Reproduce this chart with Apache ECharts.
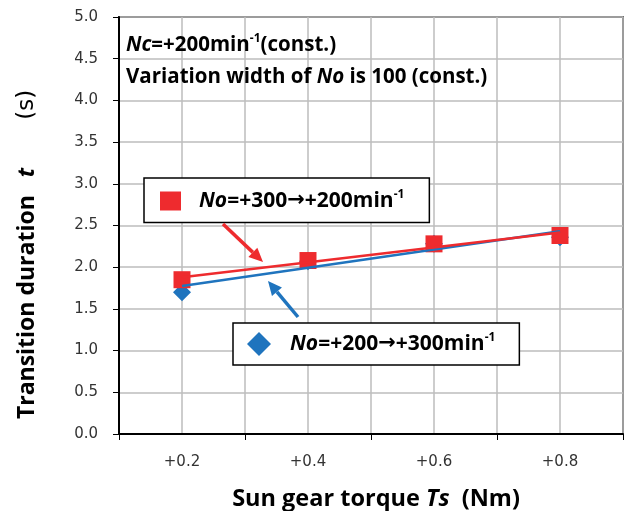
<!DOCTYPE html>
<html><head><meta charset="utf-8">
<script src="https://cdn.jsdelivr.net/npm/echarts@6/dist/echarts.min.js"></script>
<style>html,body{margin:0;padding:0;background:#fff}#c{width:625px;height:511px}</style>
</head><body><div id="c"></div>
<script>
// ---- data ----
const torque = [0.2, 0.4, 0.6, 0.8];
const durDown = [1.85, 2.08, 2.28, 2.38];   // No=+300 -> +200 (red squares)
const durUp   = [1.70, 2.07, 2.28, 2.36];   // No=+200 -> +300 (blue diamonds)
const yTicks = [0, 0.5, 1, 1.5, 2, 2.5, 3, 3.5, 4, 4.5, 5];
const xLabelVals = [0.2, 0.4, 0.6, 0.8];
const nameDown = 'No=+300→+200min-1';
const nameUp = 'No=+200→+300min-1';

function fit(xs, ys) {
  const n = xs.length, mx = xs.reduce((a,b)=>a+b)/n, my = ys.reduce((a,b)=>a+b)/n;
  let sxy = 0, sxx = 0;
  for (let i=0;i<n;i++){ sxy += (xs[i]-mx)*(ys[i]-my); sxx += (xs[i]-mx)**2; }
  const b = sxy/sxx, a = my - b*mx;
  return [[xs[0], a+b*xs[0]], [xs[n-1], a+b*xs[n-1]]];
}
const RED = '#EE2B2E', BLUE = '#1F74BE';
const FONT = 'Open Sans';
const TFONT = 'DejaVu Sans';

const richLeg = {
  i: {fontFamily: FONT, fontSize: 21, fontWeight: 'bold', fontStyle: 'italic', color: '#000'},
  b: {fontFamily: FONT, fontSize: 21, fontWeight: 'bold', color: '#000'},
  a: {fontFamily: TFONT, fontSize: 21, fontWeight: 'bold', color: '#000'},
  s: {fontFamily: FONT, fontSize: 12, fontWeight: 'bold', color: '#000', padding: [0,0,12,0]}
};
function legFmt(name) {
  const body = name.slice(2, name.length - 2).split('→');
  return '{i|No}{b|' + body[0] + '}{a|→}{b|' + body[1] + '}{s|-1}';
}

function arrow(x1, y1, x2, y2, color) {
  const ang = Math.atan2(y2-y1, x2-x1), L = 14, W = 6.5;
  const bx = x2 - L*Math.cos(ang), by = y2 - L*Math.sin(ang);
  const px = -Math.sin(ang), py = Math.cos(ang);
  return [
    {type:'line', shape:{x1, y1, x2: bx, y2: by}, style:{stroke: color, lineWidth: 3.5}, z: 50},
    {type:'polygon', shape:{points:[[x2,y2],[bx+px*W, by+py*W],[bx-px*W, by-py*W]]}, style:{fill: color}, z: 50}
  ];
}

const chart = echarts.init(document.getElementById('c'), null, {renderer:'canvas'});
chart.setOption({
  animation: false,
  backgroundColor: '#fff',
  grid: {left: 119, right: 2, top: 17, bottom: 77, show: true, borderColor: '#000', borderWidth: 1.5,
         containLabel: false, outerBoundsMode: 'none'},
  xAxis: [{
    type: 'value', min: 0.1, max: 0.9, interval: 0.1,
    axisLine: {show: true, onZero: false, lineStyle: {color: '#000', width: 2}},
    axisTick: {show: false},
    splitLine: {show: true, lineStyle: {color: '#BDBDBD', width: 1.5}},
    axisLabel: {
      margin: 21, color: '#333', fontFamily: TFONT, fontSize: 15,
      formatter: v => { const r = Math.round(v*10); return xLabelVals.some(t => Math.round(t*10) === r) ? '+' + (r/10).toFixed(1) : ''; }
    },
    name: '{b|Sun gear torque }{bi|Ts}{b|  (Nm)}',
    nameLocation: 'middle', nameGap: 53,
    nameTextStyle: {padding: [0, 0, 0, 10], rich: {
      b: {fontFamily: FONT, fontSize: 23.5, fontWeight: 'bold', color: '#000'},
      bi: {fontFamily: FONT, fontSize: 23.5, fontWeight: 'bold', fontStyle: 'italic', color: '#000'}
    }}
  }, {
    type: 'category', data: ['a','b','c','d'], position: 'bottom', boundaryGap: true,
    axisLine: {show: false}, axisLabel: {show: false}, splitLine: {show: false},
    axisTick: {show: true, length: 6, lineStyle: {color: '#000', width: 1}}
  }],
  yAxis: {
    type: 'value', min: 0, max: 5, interval: 0.5,
    axisLine: {show: true, lineStyle: {color: '#000', width: 2}},
    axisTick: {show: true, length: 6, lineStyle: {color: '#000'}},
    splitLine: {show: true, lineStyle: {color: '#BDBDBD', width: 1.5}},
    axisLabel: {margin: 21, color: '#333', fontFamily: TFONT, fontSize: 15, formatter: v => v.toFixed(1)},
    name: '{b|Transition duration   }{bi|t}{n|(s)}',
    nameLocation: 'middle', nameGap: 80, nameRotate: 90,
    nameTextStyle: {padding: [0, 58, 0, 0], rich: {
      b: {fontFamily: FONT, fontSize: 23, fontWeight: 'bold', color: '#000'},
      bi: {fontFamily: FONT, fontSize: 23, fontWeight: 'bold', fontStyle: 'italic', color: '#000'},
      n: {fontFamily: TFONT, fontSize: 23, color: '#000', padding: [0, 0, 0, 48]}
    }}
  },
  legend: [{
    data: [{name: nameDown, icon: 'rect'}], left: 144, top: 178,
    itemWidth: 21, itemHeight: 19, padding: [11, 25, 11, 16],
    borderColor: '#000', borderWidth: 1.5, backgroundColor: '#fff',
    formatter: legFmt, textStyle: {padding: [0,0,0,13], rich: richLeg}
  }, {
    data: [{name: nameUp, icon: 'diamond'}], left: 233, top: 323,
    itemWidth: 24, itemHeight: 24, padding: [9, 24, 9, 14],
    borderColor: '#000', borderWidth: 1.5, backgroundColor: '#fff',
    formatter: legFmt, textStyle: {padding: [0,0,0,14], rich: richLeg}
  }],
  graphic: [
    {type: 'text', left: 126, top: 33, z: 40, style: {
      text: '{i|Nc}{b|=+200min}{s|-1}{b|(const.)}\n{b|Variation width of }{i|No}{b| is 100 (const.)}',
      rich: {
        i: {fontFamily: FONT, fontSize: 20.5, fontWeight: 'bold', fontStyle: 'italic', color: '#000', lineHeight: 32},
        b: {fontFamily: FONT, fontSize: 20.5, fontWeight: 'bold', color: '#000', lineHeight: 32},
        s: {fontFamily: FONT, fontSize: 12, fontWeight: 'bold', color: '#000', padding: [0,0,12,0], lineHeight: 32}
      }
    }},
    ...arrow(223, 224, 263, 262, RED),
    ...arrow(298, 317, 268, 281, BLUE)
  ],
  series: [
    {name: nameUp, type: 'scatter', data: torque.map((x,i)=>[x, durUp[i]]), symbol: 'diamond', symbolSize: 18,
     itemStyle: {color: BLUE, opacity: 1}, z: 3},
    {name: nameDown, type: 'scatter', data: torque.map((x,i)=>[x, durDown[i]]), symbol: 'rect', symbolSize: 17,
     itemStyle: {color: RED, opacity: 1}, z: 4},
    {name: 'trendUp', type: 'line', data: fit(torque, durUp), showSymbol: false, symbol: 'none',
     lineStyle: {color: BLUE, width: 2.5}, z: 5},
    {name: 'trendDown', type: 'line', data: fit(torque, durDown), showSymbol: false, symbol: 'none',
     lineStyle: {color: RED, width: 2.5}, z: 6}
  ]
});
</script></body></html>
